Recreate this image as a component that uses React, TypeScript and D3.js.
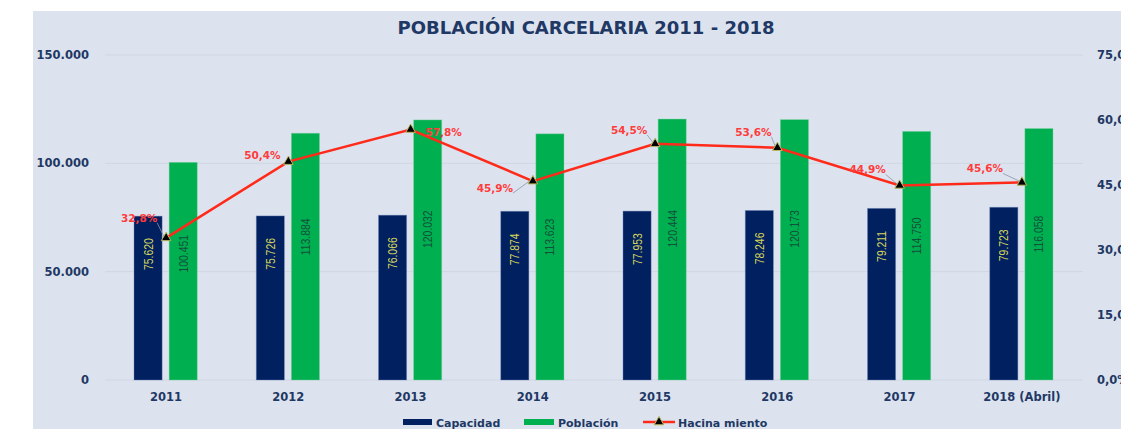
import React from "react";
import * as d3 from "d3";

const categories = ["2011", "2012", "2013", "2014", "2015", "2016", "2017", "2018 (Abril)"];
const capacidad = [75620, 75726, 76066, 77874, 77953, 78246, 79211, 79723];
const poblacion = [100451, 113884, 120032, 113623, 120444, 120173, 114750, 116058];
const hacinamiento = [32.8, 50.4, 57.8, 45.9, 54.5, 53.6, 44.9, 45.6];
const leftTicks = [0, 50000, 100000, 150000];
const rightTicks = [0, 15, 30, 45, 60, 75];
const seriesNames = ["Capacidad", "Población", "Hacina miento"];
const title = "POBLACIÓN CARCELARIA 2011 - 2018";

// label layout (offsets of percentage labels relative to their point)
const pctLabelOffsets: [number, number, string][] = [
  [-27, -20, "lead"],
  [-26, -7, "none"],
  [33, 2, "none"],
  [-38, 7, "lead"],
  [-26, -14, "lead"],
  [-24, -16, "lead"],
  [-32, -16, "lead"],
  [-37, -14, "lead"],
];

const W = 1121;
const H = 429;
const NAVY = "#1f3864";
const BG = "#dce3ef";

const fmtThousands = (v: number) => d3.format(",")(v).replace(/,/g, ".");
const fmtPct = (v: number) => v.toFixed(1).replace(".", ",") + "%";

export default function App() {
  const x = d3.scaleBand<string>().domain(categories).range([105, 1083]).padding(0);
  const yL = d3.scaleLinear().domain([0, 150000]).range([380, 55]);
  const yR = d3.scaleLinear().domain([0, 75]).range([380, 55]);
  const bw = x.bandwidth();
  const barW = bw * 0.23;
  const cx = (c: string) => (x(c) as number) + bw / 2;

  const line = d3
    .line<number>()
    .x((_, i) => cx(categories[i]))
    .y((d) => yR(d));

  const tri = d3.symbol().type(d3.symbolTriangle).size(40)() as string;
  const axisFont = "'DejaVu Sans', Verdana, sans-serif";
  const narrow = "'Liberation Sans', Arial, sans-serif";

  return (
    <svg
      width={W}
      height={H}
      style={{ position: "absolute", left: 0, top: 0, display: "block" }}
    >
      <rect x={0} y={0} width={W} height={H} fill="#ffffff" />
      <rect x={33} y={11} width={W - 33} height={H - 11} fill={BG} />

      <text
        x={586}
        y={34}
        textAnchor="middle"
        fontFamily={axisFont}
        fontWeight="bold"
        fontSize={18}
        fill={NAVY}
      >
        {title}
      </text>

      {/* gridlines */}
      {leftTicks.map((t) => (
        <line
          key={"g" + t}
          x1={105}
          x2={1083}
          y1={yL(t)}
          y2={yL(t)}
          stroke="#cfd6e2"
          strokeWidth={1}
        />
      ))}

      {/* left axis labels */}
      {leftTicks.map((t) => (
        <text
          key={"l" + t}
          x={89}
          y={yL(t) + 4}
          textAnchor="end"
          fontFamily={axisFont}
          fontWeight="bold"
          fontSize={11.5}
          fill={NAVY}
        >
          {t === 0 ? "0" : fmtThousands(t)}
        </text>
      ))}

      {/* right axis labels (clipped by the frame edge, as in the source) */}
      {rightTicks.map((t) => (
        <text
          key={"r" + t}
          x={1097}
          y={yR(t) + 4}
          textAnchor="start"
          fontFamily={axisFont}
          fontWeight="bold"
          fontSize={11.5}
          fill={NAVY}
        >
          {fmtPct(t)}
        </text>
      ))}

      {/* bars */}
      {categories.map((c, i) => {
        const c0 = cx(c);
        const xc = c0 - 4 - barW;
        const xp = c0 + 3;
        const yc = yL(capacidad[i]);
        const yp = yL(poblacion[i]);
        return (
          <g key={"b" + c}>
            <rect
              x={xc}
              y={yc}
              width={barW}
              height={yL(0) - yc}
              fill="#002060"
              stroke="#6f86b8"
              strokeOpacity={0.5}
              strokeWidth={0.8}
            />
            <rect
              x={xp}
              y={yp}
              width={barW}
              height={yL(0) - yp}
              fill="#00b050"
              stroke="#7fd0a0"
              strokeOpacity={0.5}
              strokeWidth={0.8}
            />
            <text
              transform={`translate(${xc + barW / 2 + 4.5},${yc + 38}) rotate(-90) scale(0.8,1)`}
              textAnchor="middle"
              fontFamily={narrow}
              fontSize={13}
              fill="#d6d65a"
            >
              {fmtThousands(capacidad[i])}
            </text>
            <text
              transform={`translate(${xp + barW / 2 + 4.5},${yL(poblacion[i] * 0.58)}) rotate(-90) scale(0.8,1)`}
              textAnchor="middle"
              fontFamily={narrow}
              fontSize={13}
              fill="#11513c"
            >
              {fmtThousands(poblacion[i])}
            </text>
          </g>
        );
      })}

      {/* line */}
      <path
        d={line(hacinamiento) as string}
        fill="none"
        stroke="#ff2a1a"
        strokeWidth={2.5}
      />
      {hacinamiento.map((v, i) => {
        const px = cx(categories[i]);
        const py = yR(v);
        const [dx, dy, mode] = pctLabelOffsets[i];
        const lx = px + dx;
        const ly = py + dy;
        return (
          <g key={"p" + i}>
            {mode === "lead" && (
              <line
                x1={dx < 0 ? lx + 18 : lx - 18}
                y1={ly + 5}
                x2={px - 2}
                y2={py - 1}
                stroke="#8a94a6"
                strokeWidth={0.8}
              />
            )}
            <path
              d={tri}
              transform={`translate(${px},${py})`}
              fill="#000000"
              stroke="#b8b860"
              strokeWidth={1}
            />
            <text
              x={lx}
              y={ly + 4}
              textAnchor="middle"
              fontFamily={axisFont}
              fontWeight="bold"
              fontSize={10.5}
              fill="#ff3b3b"
            >
              {fmtPct(v)}
            </text>
          </g>
        );
      })}

      {/* category labels */}
      {categories.map((c) => (
        <text
          key={"c" + c}
          x={cx(c)}
          y={401}
          textAnchor="middle"
          fontFamily={axisFont}
          fontWeight="bold"
          fontSize={11.5}
          fill={NAVY}
        >
          {c}
        </text>
      ))}

      {/* legend */}
      <g fontFamily={axisFont} fontWeight="bold" fontSize={11} fill={NAVY}>
        <rect x={403} y={419} width={29} height={6} fill="#002060" />
        <text x={436} y={427}>{seriesNames[0]}</text>
        <rect x={524} y={419} width={30} height={6} fill="#00b050" />
        <text x={558} y={427}>{seriesNames[1]}</text>
        <line x1={643} x2={675} y1={422} y2={422} stroke="#ff2a1a" strokeWidth={2.5} />
        <path d={tri} transform="translate(659,422)" fill="#000" stroke="#b8b860" strokeWidth={1} />
        <text x={678} y={427}>{seriesNames[2]}</text>
      </g>
    </svg>
  );
}
